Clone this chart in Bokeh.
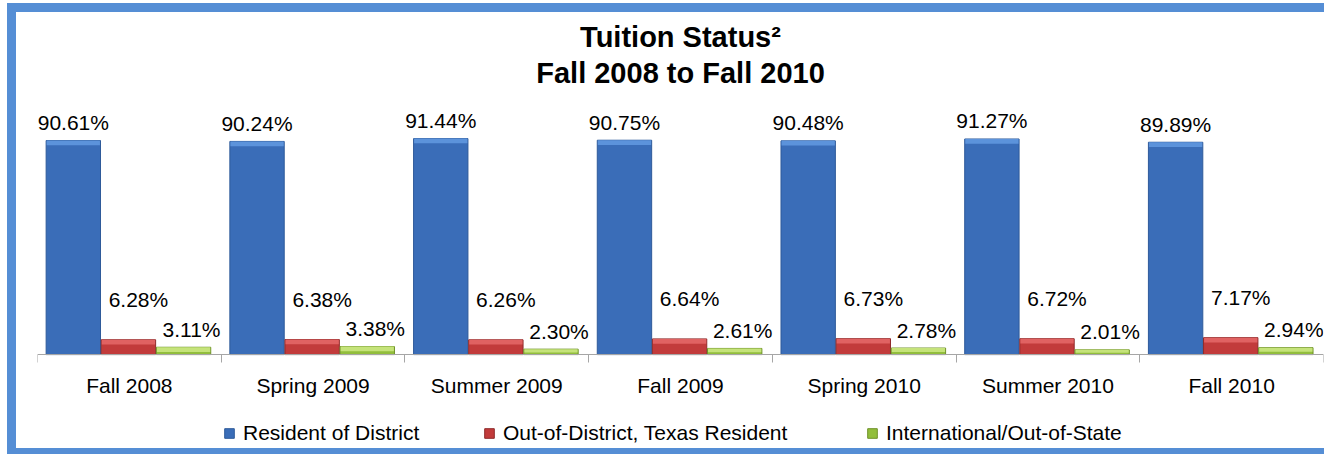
from bokeh.plotting import figure
from bokeh.models import Range1d, FixedTicker, Legend, LegendItem, ColumnDataSource, Title
from bokeh.core.properties import value
from bokeh.embed import file_html
from bokeh.resources import INLINE

# ---- data ----
categories = ["Fall 2008", "Spring 2009", "Summer 2009", "Fall 2009",
              "Spring 2010", "Summer 2010", "Fall 2010"]
series_names = ["Resident of District", "Out-of-District, Texas Resident",
                "International/Out-of-State"]
resident = [90.61, 90.24, 91.44, 90.75, 90.48, 91.27, 89.89]
out_district = [6.28, 6.38, 6.26, 6.64, 6.73, 6.72, 7.17]
international = [3.11, 3.38, 2.30, 2.61, 2.78, 2.01, 2.94]
title_lines = ["Tuition Status\u00b2", "Fall 2008 to Fall 2010"]

FONT = "Liberation Sans"
FS = "21px"

p = figure(width=1317, height=451, output_backend="svg", toolbar_location=None,
           x_range=Range1d(0, len(categories)), y_range=Range1d(-46.1, 111.8),
           min_border_left=21, min_border_right=10, min_border_top=78,
           min_border_bottom=0)
p.styles = {"margin-top": "3px", "margin-left": "7px",
            "border-left": "9px solid #558ED5", "border-top": "9px solid #558ED5",
            "border-bottom": "6px solid #558ED5"}
p.background_fill_color = "white"
p.border_fill_color = "white"
p.outline_line_color = None
p.xgrid.visible = False
p.ygrid.visible = False
p.yaxis.visible = False

# title: first line is the figure title (outermost), second line added closer to the frame
p.title.text = title_lines[0]
p.title.standoff = 0
sub_title = Title(text=title_lines[1], standoff=4)
p.add_layout(sub_title, "above")
for t in (p.title, sub_title):
    t.text_font = FONT
    t.text_font_size = "29px"
    t.text_font_style = "bold"
    t.align = "center"
    t.text_color = "black"

centers = [i + 0.5 for i in range(len(categories))]
ax = p.xaxis[0]
ax.fixed_location = 0
ax.ticker = FixedTicker(ticks=centers, minor_ticks=list(range(len(categories) + 1)))
ax.major_label_overrides = {c: lab for c, lab in zip(centers, categories)}
ax.major_tick_out = 0
ax.major_tick_in = 0
ax.minor_tick_out = 8
ax.minor_tick_in = 0
ax.minor_tick_line_color = "#A6A6A6"
ax.axis_line_color = "#A6A6A6"
ax.major_label_text_font = FONT
ax.major_label_text_font_size = FS
ax.major_label_text_color = "black"
ax.major_label_standoff = 11

series = [resident, out_district, international]
offsets = [-0.3, 0.0, 0.3]
fills = ["#3A6DB8", "#C23B3B", "#92BE3C"]
lines = ["#2E5A9A", "#8E2A2A", "#6E9128"]
bands = ["#5C93DB", "#E06262", "#C5E37A"]
label_dx = [0, 10, 8]
label_dy = [-18, -40, -18]

legend_x = [186, 446, 829]
renderers = []
for vals, off, fc, lc, bc, dx, dy in zip(series, offsets, fills, lines, bands,
                                         label_dx, label_dy):
    xs = [c + off - 0.005 for c in centers]
    src = ColumnDataSource(dict(x=xs, top=vals,
                                band=[v - 2.0 if v > 3 else v * 0.4 for v in vals],
                                lab=[f"{v:.2f}%" for v in vals]))
    r = p.vbar(x="x", top="top", width=0.296, bottom=0, source=src,
               fill_color=fc, line_color=lc, line_width=1)
    p.vbar(x="x", top="top", bottom="band", width=0.29, source=src,
           fill_color=bc, line_color=None)
    p.text(x="x", y="top", text="lab", source=src, x_offset=dx, y_offset=dy,
           text_align="center", text_baseline="middle",
           text_font=value(FONT), text_font_size=FS, text_color="black")
    renderers.append(r)

for name, r, lx in zip(series_names, renderers, legend_x):
    lg = Legend(items=[LegendItem(label=name, renderers=[r])],
                location=(lx, 18), orientation="horizontal",
                padding=0, margin=0, spacing=0,
                glyph_width=12, glyph_height=12, label_standoff=8,
                label_text_font=FONT, label_text_font_size=FS,
                label_text_color="black", label_height=20,
                border_line_alpha=0, background_fill_alpha=0)
    p.add_layout(lg, "center")

open("out.html", "w").write(file_html(p, INLINE))
